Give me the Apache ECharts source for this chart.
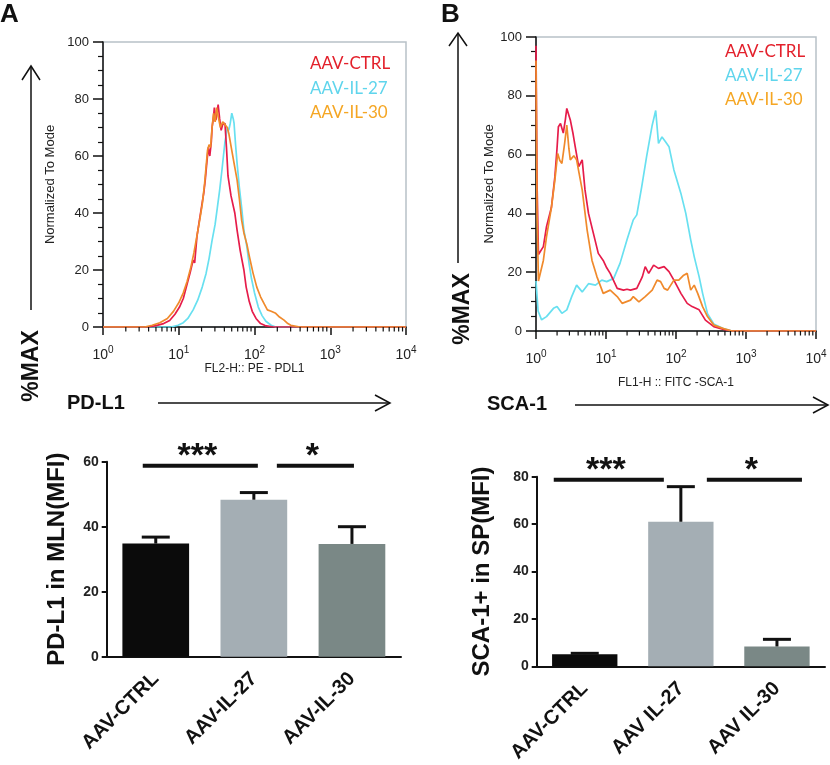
<!DOCTYPE html>
<html><head><meta charset="utf-8">
<script src="https://cdn.jsdelivr.net/npm/echarts@6/dist/echarts.min.js"></script>
<style>html,body{margin:0;padding:0;background:#fff}#c{width:830px;height:765px}</style>
</head><body><div id="c"></div>
<script>
// ---------- DATA ----------
// Histogram x values are log10 of fluorescence intensity (10^0 .. 10^4), y = % of max
const groups = ['AAV-CTRL', 'AAV-IL-27', 'AAV-IL-30'];
const decadeTicks = [0, 1, 2, 3, 4];
const histYTicks = [0, 20, 40, 60, 80, 100];

const pdl1Ctrl = [[0,0],[0.6,0],[0.70,0.5],[0.80,1.2],[0.88,2.3],[0.95,4.5],[1.01,7],[1.06,10],[1.10,14],[1.15,19],[1.19,23.5],[1.21,22.5],[1.24,31.7],[1.27,37],[1.30,42],[1.33,47],[1.35,51.6],[1.37,57.5],[1.39,63],[1.41,60],[1.43,65],[1.44,70],[1.46,74],[1.47,77],[1.49,72.6],[1.51,76],[1.52,78],[1.54,73],[1.56,69],[1.58,71],[1.61,71.5],[1.63,63],[1.65,53],[1.69,46],[1.74,40],[1.77,34],[1.81,27],[1.86,20],[1.89,14],[1.93,9],[1.97,5.5],[2.02,3],[2.08,1.2],[2.14,0.5],[2.25,0],[4,0]];
const pdl1Il27 = [[0,0],[0.9,0],[0.99,0.6],[1.06,1.5],[1.12,3],[1.19,6],[1.25,9.4],[1.31,14],[1.36,18.7],[1.40,24],[1.44,30.4],[1.48,36],[1.51,42],[1.54,48],[1.57,55],[1.59,60],[1.61,65],[1.63,68],[1.64,70],[1.66,69],[1.68,71.5],[1.70,75],[1.72,73],[1.73,71.5],[1.75,64],[1.77,57.5],[1.80,49],[1.83,42],[1.86,34],[1.90,28],[1.93,22],[1.96,17],[2.0,12],[2.05,7],[2.10,4],[2.15,2],[2.22,0.6],[2.28,0],[4,0]];
const pdl1Il30 = [[0,0],[0.55,0],[0.65,0.6],[0.75,1.5],[0.85,3],[0.93,5.5],[1.0,8.5],[1.06,12],[1.11,16],[1.16,21],[1.20,26],[1.24,32],[1.28,38],[1.31,43],[1.34,50],[1.36,56],[1.38,62],[1.40,64],[1.42,63],[1.44,70],[1.46,75],[1.48,72],[1.50,77],[1.52,74],[1.55,70],[1.58,72],[1.61,71],[1.64,70],[1.66,68],[1.70,62],[1.74,56],[1.77,51.6],[1.80,45],[1.83,37.5],[1.86,33],[1.90,29],[1.93,25],[1.98,19],[2.03,14],[2.08,10.6],[2.13,8],[2.17,6],[2.22,5.5],[2.28,4.8],[2.33,3.5],[2.39,2.4],[2.44,1.2],[2.48,0.6],[2.6,0],[4,0]];

const scaCtrl = [[0,97],[0.015,50],[0.035,26],[0.06,25.5],[0.105,28.7],[0.15,35.5],[0.22,42],[0.27,52.5],[0.30,62],[0.32,69.5],[0.35,70.6],[0.39,67.3],[0.42,72],[0.44,75.7],[0.49,71.8],[0.53,67],[0.56,62.7],[0.61,55.9],[0.66,58.2],[0.70,48],[0.75,40],[0.82,33.2],[0.89,26.4],[0.96,24],[1.01,21.5],[1.06,19.6],[1.16,14.5],[1.25,13.9],[1.30,14.2],[1.35,13.9],[1.44,14.5],[1.52,18.5],[1.56,21.9],[1.61,19.6],[1.68,22.4],[1.75,21.3],[1.83,21.9],[1.90,20.2],[1.97,17.3],[2.07,12.8],[2.16,9.4],[2.23,8.3],[2.33,7.2],[2.42,3.7],[2.54,1.5],[2.68,0.5],[2.8,0],[4,0]];
const scaIl27 = [[0,17],[0.03,6.8],[0.08,3.8],[0.15,4.9],[0.25,7.7],[0.30,8.3],[0.37,6],[0.44,7.2],[0.51,11.7],[0.58,15.6],[0.66,13.3],[0.75,16.1],[0.85,15.6],[0.94,17.3],[1.01,16.8],[1.11,17.9],[1.20,23],[1.30,31],[1.39,37.8],[1.44,39.5],[1.51,49],[1.58,59.3],[1.66,70],[1.71,75],[1.75,63.8],[1.80,66],[1.85,64.4],[1.90,62.7],[1.97,54.8],[2.07,46.8],[2.14,40],[2.21,31],[2.26,25.3],[2.33,18.5],[2.38,12.8],[2.45,5.9],[2.54,2.4],[2.68,0.8],[2.8,0],[4,0]];
const scaIl30 = [[0,92],[0.015,40],[0.035,17],[0.057,16.8],[0.105,24],[0.15,32],[0.22,42],[0.27,51.4],[0.31,60.4],[0.34,58],[0.37,57],[0.41,64],[0.44,70],[0.47,62],[0.49,58.2],[0.54,59.6],[0.58,58.2],[0.66,48],[0.73,34.4],[0.80,24],[0.87,18.5],[0.96,12.8],[1.06,13.9],[1.16,11.7],[1.23,9.4],[1.35,10.5],[1.39,11.7],[1.47,9.9],[1.56,11.7],[1.66,13.9],[1.73,17.3],[1.78,16.8],[1.83,14.5],[1.88,13.9],[1.97,17.3],[2.04,17.3],[2.11,19],[2.16,19.6],[2.21,13.9],[2.26,15.6],[2.31,12.8],[2.38,8.3],[2.45,4.9],[2.54,2],[2.68,0.8],[2.8,0],[4,0]];

// Bar charts (mean, upper error)
const pdl1Cats = ['AAV-CTRL', 'AAV-IL-27', 'AAV-IL-30'];
const pdl1Mean = [34.8, 48.3, 34.7];
const pdl1Err  = [2.0, 2.2, 5.3];
const pdl1YTicks = [0, 20, 40, 60];

const scaCats = ['AAV-CTRL', 'AAV IL-27', 'AAV IL-30'];
const scaMean = [5.1, 61.0, 8.4];
const scaErr  = [0.4, 14.8, 3.0];
const scaYTicks = [0, 20, 40, 60, 80];

const sigMarks = ['***', '*'];

// ---------- STYLE ----------
const FONT = '"Liberation Sans", Arial, sans-serif';
const lineColors = ['#e61c4a', '#68e0f0', '#f08a2c'];
const legendColors = ['#e3202b', '#5fd5ec', '#f5a623'];
const barColors = ['#0b0b0b', '#a4aeb4', '#7a8886'];

// log-scale minor tick positions (2..9 within each decade)
const minorVals = [];
for (let d = 0; d < 4; d++) for (let k = 2; k <= 9; k++) minorVals.push(d + Math.log10(k));

const chart = echarts.init(document.getElementById('c'), null, {renderer: 'canvas', width: 830, height: 765});

function histX(grid, name, gap) {
  return {
    gridIndex: grid, type: 'value', min: decadeTicks[0], max: decadeTicks[decadeTicks.length - 1], interval: 1,
    axisLine: {lineStyle: {color: '#111', width: 1.5}},
    axisTick: {length: 8, lineStyle: {color: '#111', width: 1.5}},
    splitLine: {show: false},
    axisLabel: {
      margin: 18, color: '#222', fontFamily: FONT,
      formatter: v => '{b|10}{s|' + v + '}',
      rich: {b: {fontSize: 14, fontFamily: FONT, color: '#222', lineHeight: 17, verticalAlign: 'bottom'},
             s: {fontSize: 10, fontFamily: FONT, color: '#222', lineHeight: 17, verticalAlign: 'top'}}
    },
    name: name, nameLocation: 'middle', nameGap: gap,
    nameTextStyle: {fontSize: 12, color: '#222', fontFamily: FONT}
  };
}
function histY(grid, gap) {
  return {
    gridIndex: grid, type: 'value', min: histYTicks[0], max: histYTicks[histYTicks.length - 1], interval: 20,
    axisLine: {show: true, lineStyle: {color: '#111', width: 1.5}},
    axisTick: {show: true, length: 10, lineStyle: {color: '#111', width: 1.5}},
    minorTick: {show: true, splitNumber: 4, length: 5, lineStyle: {color: '#111', width: 1.2}},
    splitLine: {show: false},
    axisLabel: {margin: 14, fontSize: 13, color: '#222', fontFamily: FONT},
    name: 'Normalized To Mode', nameLocation: 'middle', nameGap: gap,
    nameTextStyle: {fontSize: 13, color: '#222', fontFamily: FONT}
  };
}
function barX(grid, cats) {
  return {
    gridIndex: grid, type: 'category', data: cats,
    axisLine: {lineStyle: {color: '#111', width: 2}},
    axisTick: {alignWithLabel: true, length: 6, lineStyle: {color: '#111', width: 2}},
    axisLabel: {rotate: 45, interval: 0, margin: 19, fontSize: 20, fontWeight: 'bold', color: '#111', fontFamily: FONT}
  };
}
function barY(grid, ticks, name, gap) {
  return {
    gridIndex: grid, type: 'value', min: ticks[0], max: ticks[ticks.length - 1], interval: 20,
    axisLine: {show: true, lineStyle: {color: '#111', width: 2}},
    axisTick: {show: true, length: 5, lineStyle: {color: '#111', width: 2}},
    splitLine: {show: false},
    axisLabel: {margin: 8, fontSize: 14, fontWeight: 'bold', color: '#222', fontFamily: FONT},
    name: name, nameLocation: 'middle', nameGap: gap,
    nameTextStyle: {fontSize: 24, fontWeight: 'bold', color: '#111', fontFamily: FONT}
  };
}
function histLine(xi, yi, data, color) {
  return {type: 'line', xAxisIndex: xi, yAxisIndex: yi, data: data, showSymbol: false, symbol: 'none',
          lineStyle: {color: color, width: 1.7}, z: 3};
}
function minorTickSeries(xi, yi) {
  return {
    type: 'custom', xAxisIndex: xi, yAxisIndex: yi, z: 6, silent: true, clip: false,
    data: minorVals.map(v => [v, 0]),
    encode: {x: 0, y: 1},
    renderItem: function (params, api) {
      const p = api.coord([api.value(0), 0]);
      return {type: 'line', shape: {x1: p[0], y1: p[1], x2: p[0], y2: p[1] + 4.5}, style: {stroke: '#111', lineWidth: 1.2}};
    }
  };
}
function errSeries(xi, yi, means, errs) {
  return {
    type: 'custom', xAxisIndex: xi, yAxisIndex: yi, z: 5,
    data: means.map((m, i) => [i, m, errs[i]]),
    encode: {x: 0, y: 1},
    renderItem: function (params, api) {
      const i = api.value(0), m = api.value(1), e = api.value(2);
      const p0 = api.coord([i, m]);
      const p1 = api.coord([i, m + e]);
      const hw = 14;
      return {type: 'group', children: [
        {type: 'line', shape: {x1: p0[0], y1: p0[1], x2: p1[0], y2: p1[1]}, style: {stroke: '#111', lineWidth: 3}},
        {type: 'line', shape: {x1: p1[0] - hw, y1: p1[1], x2: p1[0] + hw, y2: p1[1]}, style: {stroke: '#111', lineWidth: 3}}
      ]};
    }
  };
}
function barSeries(xi, yi, vals) {
  return {type: 'bar', xAxisIndex: xi, yAxisIndex: yi, barWidth: '68%',
          data: vals.map((v, i) => ({value: v, itemStyle: {color: barColors[i]}})), z: 2};
}

chart.setOption({
  animation: false,
  backgroundColor: '#ffffff',
  textStyle: {fontFamily: FONT},
  grid: [
    {left: 103, top: 42, width: 303, height: 285, show: true, borderColor: '#b8c1c7', borderWidth: 1.5},
    {left: 536, top: 37, width: 280, height: 294, show: true, borderColor: '#b8c1c7', borderWidth: 1.5},
    {left: 106.7, top: 461.7, width: 294.3, height: 195},
    {left: 536.7, top: 476.7, width: 288.3, height: 190}
  ],
  xAxis: [histX(0, 'FL2-H:: PE - PDL1', 36), histX(1, 'FL1-H :: FITC -SCA-1', 46),
          barX(2, pdl1Cats), barX(3, scaCats)],
  yAxis: [histY(0, 46), histY(1, 37),
          barY(2, pdl1YTicks, 'PD-L1 in MLN(MFI)', 37),
          barY(3, scaYTicks, 'SCA-1+ in SP(MFI)', 42)],
  series: [
    histLine(0, 0, pdl1Il27, lineColors[1]),
    histLine(0, 0, pdl1Ctrl, lineColors[0]),
    histLine(0, 0, pdl1Il30, lineColors[2]),
    histLine(1, 1, scaIl27, lineColors[1]),
    histLine(1, 1, scaCtrl, lineColors[0]),
    histLine(1, 1, scaIl30, lineColors[2]),
    minorTickSeries(0, 0), minorTickSeries(1, 1),
    barSeries(2, 2, pdl1Mean), errSeries(2, 2, pdl1Mean, pdl1Err),
    barSeries(3, 3, scaMean), errSeries(3, 3, scaMean, scaErr)
  ]
});

// ---------- ANNOTATIONS ----------
function txt(x, y, text, font, fill, align, rot) {
  return {type: 'text', x: x, y: y, rotation: rot || 0, z: 10,
          style: {text: text, font: font, fill: fill || '#111', align: align || 'left', verticalAlign: 'middle'}};
}
function seg(pts, w) {
  return {type: 'polyline', z: 10, shape: {points: pts}, style: {stroke: '#111', lineWidth: w || 1.5, fill: null}};
}
const g = [];
g.push(txt(0, 15, 'A', 'bold 26px ' + FONT));
g.push(txt(441, 15, 'B', 'bold 26px ' + FONT));
g.push(txt(32, 366, '%MAX', 'bold 23px ' + FONT, '#111', 'center', Math.PI / 2));
g.push(txt(463, 309, '%MAX', 'bold 23px ' + FONT, '#111', 'center', Math.PI / 2));
g.push(txt(67, 403, 'PD-L1', 'bold 20px ' + FONT));
g.push(txt(487, 404, 'SCA-1', 'bold 20px ' + FONT));
// arrows
g.push(seg([[31, 310], [31, 66]]), seg([[22, 80], [31, 66], [40, 80]]));
g.push(seg([[458, 263], [458, 33]]), seg([[449, 46], [458, 33], [467, 46]]));
g.push(seg([[158, 403], [390, 403]]), seg([[375, 395], [390, 403], [375, 411]]));
g.push(seg([[575, 405], [828, 405]]), seg([[813, 397], [828, 405], [813, 413]]));
// legends
groups.forEach((name, i) => {
  g.push(txt(310, 64 + i * 24.5, name, '17px Lato, ' + FONT, legendColors[i]));
  g.push(txt(725, 52 + i * 24, name, '17px Lato, ' + FONT, legendColors[i]));
});
// significance bars
function sig(xi, yi, top, c0, c1, off0, off1, mark) {
  const x0 = chart.convertToPixel({xAxisIndex: xi}, c0) + off0;
  const x1 = chart.convertToPixel({xAxisIndex: xi}, c1) + off1;
  const y = chart.convertToPixel({yAxisIndex: yi}, top) + 2;
  g.push({type: 'line', z: 10, shape: {x1: x0, y1: y, x2: x1, y2: y}, style: {stroke: '#111', lineWidth: 4}});
  g.push(txt((x0 + x1) / 2 - 3, y - 9, mark, 'bold 34px ' + FONT, '#111', 'center'));
}
sig(2, 2, 60 - 0.6, 0, 1, -13, 4, sigMarks[0]);
sig(2, 2, 60 - 0.6, 1, 2, 23, 2, sigMarks[1]);
sig(3, 3, 80 - 0.4, 0, 1, -31, -17, sigMarks[0]);
sig(3, 3, 80 - 0.4, 1, 2, 26, 25, sigMarks[1]);
chart.setOption({graphic: g});
</script></body></html>
